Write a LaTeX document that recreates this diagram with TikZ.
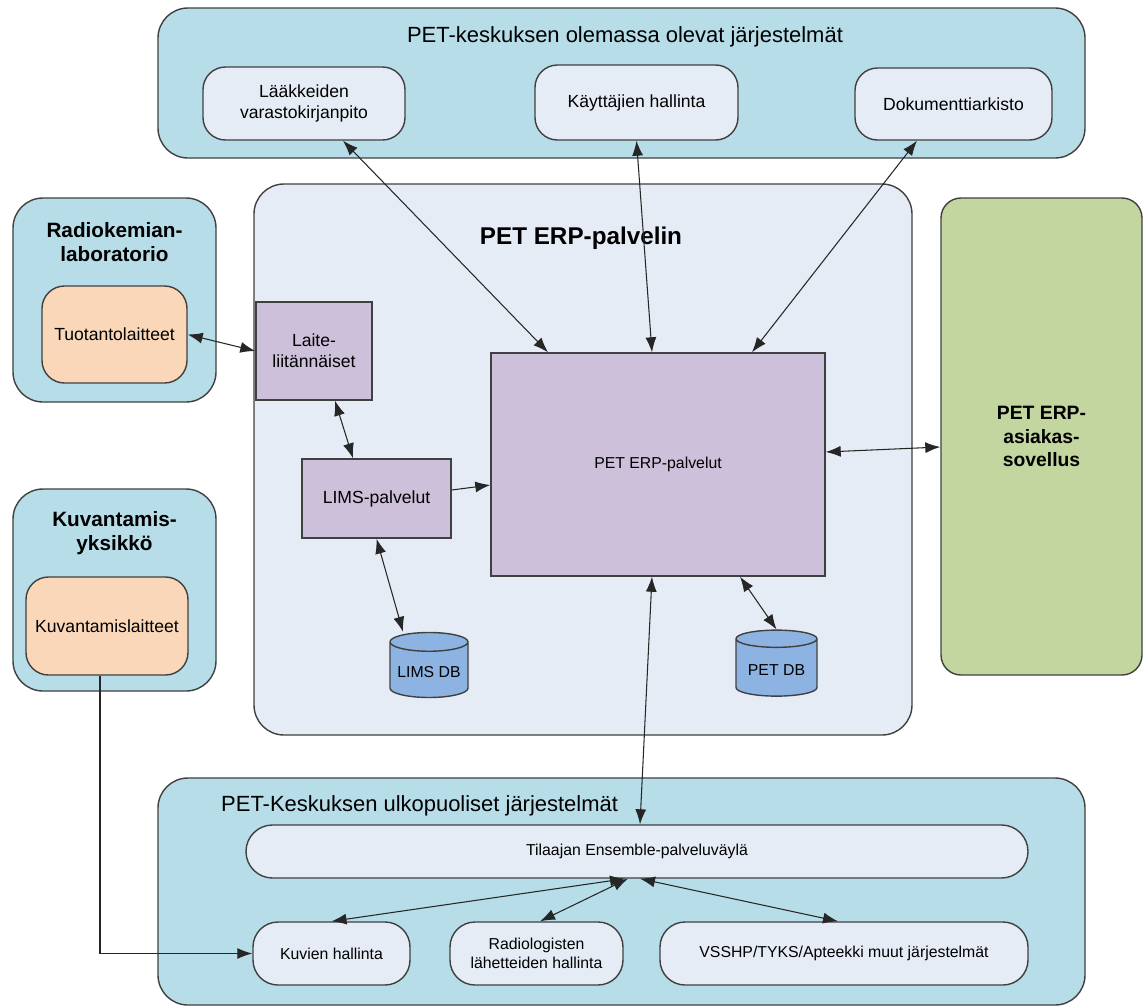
\documentclass[tikz,border=0pt]{standalone}
\usepackage{fontspec}
\setmainfont{Liberation Sans}
\usetikzlibrary{arrows.meta,shapes.geometric}
\definecolor{ryhmasin}{RGB}{183,221,232}
\definecolor{vaalea}{RGB}{230,236,246}
\definecolor{lila}{RGB}{204,192,218}
\definecolor{persikka}{RGB}{251,215,185}
\definecolor{vihrea}{RGB}{195,214,159}
\definecolor{kantasin}{RGB}{141,179,226}
\definecolor{reuna}{RGB}{64,64,64}
\begin{document}
\begin{tikzpicture}[
    every node/.style={font=\fontsize{9}{11}\selectfont, align=center},
    isompi/.style={font=\fontsize{10}{12}\selectfont},
    ryhma/.style={draw=reuna, fill=ryhmasin, rounded corners=0.6cm, line width=0.8pt},
    jarj/.style={draw=reuna, fill=vaalea, rounded corners=0.45cm, line width=0.8pt},
    palvelu/.style={draw=reuna, fill=lila, line width=0.8pt},
    laitteet/.style={draw=reuna, fill=persikka, rounded corners=0.45cm, line width=0.8pt, isompi},
    kanta/.style={cylinder, shape border rotate=90, aspect=0.25, draw=reuna, fill=kantasin, line width=0.8pt},
    otsikko/.style={font=\fontsize{12.5}{15}\selectfont},
    lihava/.style={font=\fontsize{11.8}{14}\selectfont\bfseries},
    yhteys/.style={{Latex[length=3mm,width=2.2mm]}-{Latex[length=3mm,width=2.2mm]}, black!85, line width=0.6pt},
    yhteys1/.style={-{Latex[length=3mm,width=2.2mm]}, black!85, line width=0.6pt}
  ]
    \useasboundingbox (0,0) rectangle (22.88,-20.14);

    % ryhmat
    \node[ryhma, minimum width=18.54cm, minimum height=3cm] (olemassa) at (12.43,-1.66) {};
    \node[otsikko] (olemassaots) at (12.5,-0.74) {PET-keskuksen olemassa olevat järjestelmät};
    \node[ryhma, fill=vaalea, minimum width=13.16cm, minimum height=11.02cm] (palvelin) at (11.66,-9.19) {};
    \node[font=\fontsize{13.8}{16}\selectfont\bfseries] (palvelinots) at (11.62,-4.76) {PET ERP-palvelin};
    \node[ryhma, minimum width=4.06cm, minimum height=4.08cm] (radio) at (2.29,-6.0) {};
    \node[lihava] (radioots) at (2.29,-4.84) {Radiokemian-\\laboratorio};
    \node[ryhma, minimum width=4.06cm, minimum height=4.04cm] (kuvyks) at (2.29,-11.8) {};
    \node[lihava] (kuvyksots) at (2.29,-10.66) {Kuvantamis-\\yksikkö};
    \node[ryhma, minimum width=18.54cm, minimum height=4.54cm] (ulko) at (12.43,-17.83) {};
    \node[otsikko, anchor=west] (ulkoots) at (4.3,-16.12) {PET-Keskuksen ulkopuoliset järjestelmät};
    \node[ryhma, fill=vihrea, rounded corners=0.4cm, minimum width=4.02cm, minimum height=9.54cm, font=\fontsize{11}{13.5}\selectfont\bfseries] (asiakas) at (20.83,-8.73) {PET ERP-\\asiakas-\\sovellus};

    % jarjestelmat
    \node[jarj, isompi, minimum width=4.04cm, minimum height=1.46cm] (laak) at (6.08,-2.07) {Lääkkeiden\\varastokirjanpito};
    \node[jarj, isompi, minimum width=4.06cm, minimum height=1.5cm] (kayt) at (12.73,-2.05) {Käyttäjien hallinta};
    \node[jarj, isompi, minimum width=3.94cm, minimum height=1.44cm] (doku) at (19.07,-2.08) {Dokumenttiarkisto};
    \node[laitteet, minimum width=2.9cm, minimum height=1.94cm] (tuot) at (2.29,-6.69) {Tuotantolaitteet};
    \node[laitteet, minimum width=3.24cm, minimum height=1.96cm] (kuvlait) at (2.14,-12.52) {Kuvantamislaitteet};
    \node[palvelu, isompi, minimum width=2.32cm, minimum height=1.96cm] (laite) at (6.28,-7.02) {Laite-\\liitännäiset};
    \node[palvelu, isompi, minimum width=2.98cm, minimum height=1.58cm] (limsp) at (7.53,-9.97) {LIMS-palvelut};
    \node[palvelu, minimum width=6.68cm, minimum height=4.46cm] (erp) at (13.16,-9.29) {PET ERP-palvelut};
    \node[kanta, minimum width=1.56cm, minimum height=1.3cm] (limsdb) at (8.58,-13.45) {LIMS DB};
    \node[kanta, minimum width=1.62cm, minimum height=1.32cm] (petdb) at (15.53,-13.4) {PET DB};
    \node[jarj, rounded corners=0.53cm, minimum width=15.64cm, minimum height=1.06cm] (vayla) at (12.74,-17.03) {Tilaajan Ensemble-palveluväylä};
    \node[jarj, rounded corners=0.5cm, minimum width=3.14cm, minimum height=1.26cm] (kuvien) at (6.63,-19.07) {Kuvien hallinta};
    \node[jarj, rounded corners=0.5cm, minimum width=3.46cm, minimum height=1.26cm] (radiol) at (10.73,-19.07) {Radiologisten\\lähetteiden hallinta};
    \node[jarj, rounded corners=0.5cm, minimum width=7.36cm, minimum height=1.26cm] (vsshp) at (16.88,-19.07) {VSSHP/TYKS/Apteekki muut järjestelmät};

    % yhteydet
    \draw[yhteys] ([xshift=0.78cm]laak.south) -- ([xshift=-2.2cm]erp.north);
    \draw[yhteys] (kayt.south) -- ([xshift=-0.12cm]erp.north);
    \draw[yhteys] ([xshift=-0.73cm]doku.south) -- ([xshift=1.88cm]erp.north);
    \draw[yhteys] (tuot.east) -- (laite.west);
    \draw[yhteys] ([xshift=0.42cm]laite.south) -- ([xshift=-0.47cm]limsp.north);
    \draw[yhteys1] ([yshift=0.17cm]limsp.east) -- ([yshift=-0.41cm]erp.west);
    \draw[yhteys] (limsp.south) -- ([xshift=-0.52cm]limsdb.north);
    \draw[yhteys] ([xshift=1.64cm]erp.south) -- (petdb.north);
    \draw[yhteys] ([yshift=0.25cm]erp.east) -- ([yshift=-0.21cm]asiakas.west);
    \draw[yhteys] ([xshift=-0.12cm]erp.south) -- ([xshift=0.06cm]vayla.north);
    \draw[yhteys] ([xshift=-0.24cm]vayla.south) -- (kuvien.north);
    \draw[yhteys] ([xshift=-0.18cm]vayla.south) -- ([xshift=0.07cm]radiol.north);
    \draw[yhteys] ([xshift=0.06cm]vayla.south) -- ([xshift=-0.12cm]vsshp.north);
    \draw[yhteys1] ([xshift=-0.14cm]kuvlait.south) |- (kuvien.west);
  \end{tikzpicture}
\end{document}
